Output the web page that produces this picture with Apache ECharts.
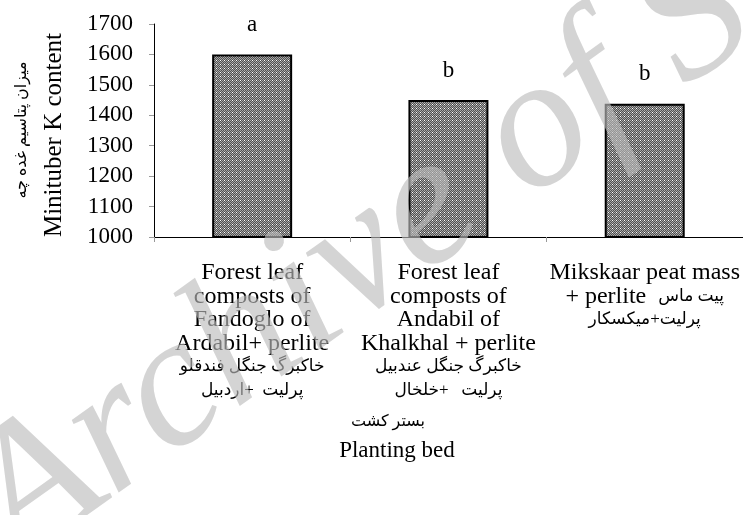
<!DOCTYPE html>
<html>
<head>
<meta charset="utf-8">
<script src="https://cdn.jsdelivr.net/npm/echarts@6/dist/echarts.min.js"></script>
<style>
  body{margin:0;background:#fff;}
  #main{width:743px;height:515px;}
</style>
</head>
<body>
<div id="main"></div>
<script>
// planting beds (x categories); every label line is a list of [style, text] pieces
var categories = ['bed1', 'bed2', 'bed3'];
var labelLines = [
  [[['en', 'Forest leaf']], [['en', 'composts of']], [['en', 'Fandoglo of']], [['en', 'Ardabil+ perlite']],
   [['fa', 'خاکبرگ جنگل فندقلو']],
   [['fa', 'پرلیت  +اردبیل']]],
  [[['en', 'Forest leaf']], [['en', 'composts of']], [['en', 'Andabil of']], [['en', 'Khalkhal + perlite']],
   [['fa', 'خاکبرگ جنگل عندبیل']],
   [['fa', 'پرلیت   +خلخال']]],
  [[['en', 'Mikskaar peat mass']],
   [['en', '+ perlite  '], ['fa', 'پیت ماس']],
   [['fa', 'پرلیت+میکسکار']]]
];
var kContent = [1600, 1450, 1438];
var letters = ['a', 'b', 'b'];
var yTicks = [1000, 1700, 100];

var serif = "'Liberation Serif', 'Times New Roman', 'DejaVu Sans', serif";

// little checker pattern like the printed bars
var pat = document.createElement('canvas');
pat.width = 4; pat.height = 4;
var pctx = pat.getContext('2d');
for (var r = 0; r < 4; r++) {
  for (var c = 0; c < 4; c++) {
    pctx.fillStyle = ((r + c) % 2 === 0) ? '#a8a8a8' : '#505050';
    if (r === 0 && c === 0) pctx.fillStyle = '#ffffff';
    pctx.fillRect(c, r, 1, 1);
  }
}

var richStyles = {
  en: {fontFamily: serif, fontSize: 24, lineHeight: 23.5, color: '#000'},
  fa: {fontFamily: serif, fontSize: 17, lineHeight: 23.5, color: '#000'}
};

function lineText(line) {
  return line.map(function (p) { return '{' + p[0] + '|' + p[1] + '}'; }).join('');
}

var chart = echarts.init(document.getElementById('main'));

var option = {
  animation: false,
  backgroundColor: '#fff',
  grid: {left: 154, right: 0, top: 24, bottom: 278},
  xAxis: {
    type: 'category',
    data: categories,
    axisLine: {lineStyle: {color: '#000', width: 1}},
    axisTick: {show: true, length: 5, lineStyle: {color: '#999'}},
    axisLabel: {
      interval: 0,
      margin: 24,
      formatter: function (v, i) {
        return labelLines[i].map(lineText).join('\n');
      },
      rich: richStyles
    }
  },
  yAxis: {
    type: 'value',
    min: yTicks[0],
    max: yTicks[1],
    interval: yTicks[2],
    splitLine: {show: false},
    axisLine: {show: true, lineStyle: {color: '#000', width: 1}},
    axisTick: {show: true, length: 5, lineStyle: {color: '#999'}},
    axisLabel: {
      fontFamily: serif, fontSize: 23, color: '#000', margin: 21,
      formatter: function (v) { return String(v); }
    }
  },
  series: [{
    type: 'bar',
    data: kContent,
    barWidth: 80,
    itemStyle: {
      color: {image: pat, repeat: 'repeat'},
      borderColor: '#000',
      borderWidth: 2
    },
    label: {
      show: true,
      position: 'top',
      distance: 18,
      fontFamily: serif,
      fontSize: 23,
      color: '#000',
      formatter: function (p) { return letters[p.dataIndex]; }
    }
  }],
  graphic: [
    {
      type: 'text', x: 54, y: 135, rotation: Math.PI / 2,
      style: {text: 'Minituber K content', font: '25px ' + serif, fill: '#000',
        textAlign: 'center', textVerticalAlign: 'middle'}
    },
    {
      type: 'text', x: 22, y: 130, rotation: Math.PI / 2,
      style: {text: 'میزان پتاسیم غده چه', font: '16px ' + serif, fill: '#000',
        textAlign: 'center', textVerticalAlign: 'middle'}
    },
    {
      type: 'text', x: 388, y: 422,
      style: {text: 'بستر کشت', font: '16px ' + serif, fill: '#000',
        textAlign: 'center', textVerticalAlign: 'middle'}
    },
    {
      type: 'text', x: 397, y: 451,
      style: {text: 'Planting bed', font: '23px ' + serif, fill: '#000',
        textAlign: 'center', textVerticalAlign: 'middle'}
    },
    {
      // watermark across the picture
      type: 'text', x: 45, y: 600, rotation: 0.62, silent: true, z: 100,
      style: {text: 'Archive of SID', font: 'italic 188px ' + serif,
        fill: 'rgba(188,188,188,0.64)', textAlign: 'left', textVerticalAlign: 'bottom'}
    }
  ]
};

chart.setOption(option);
</script>
</body>
</html>
